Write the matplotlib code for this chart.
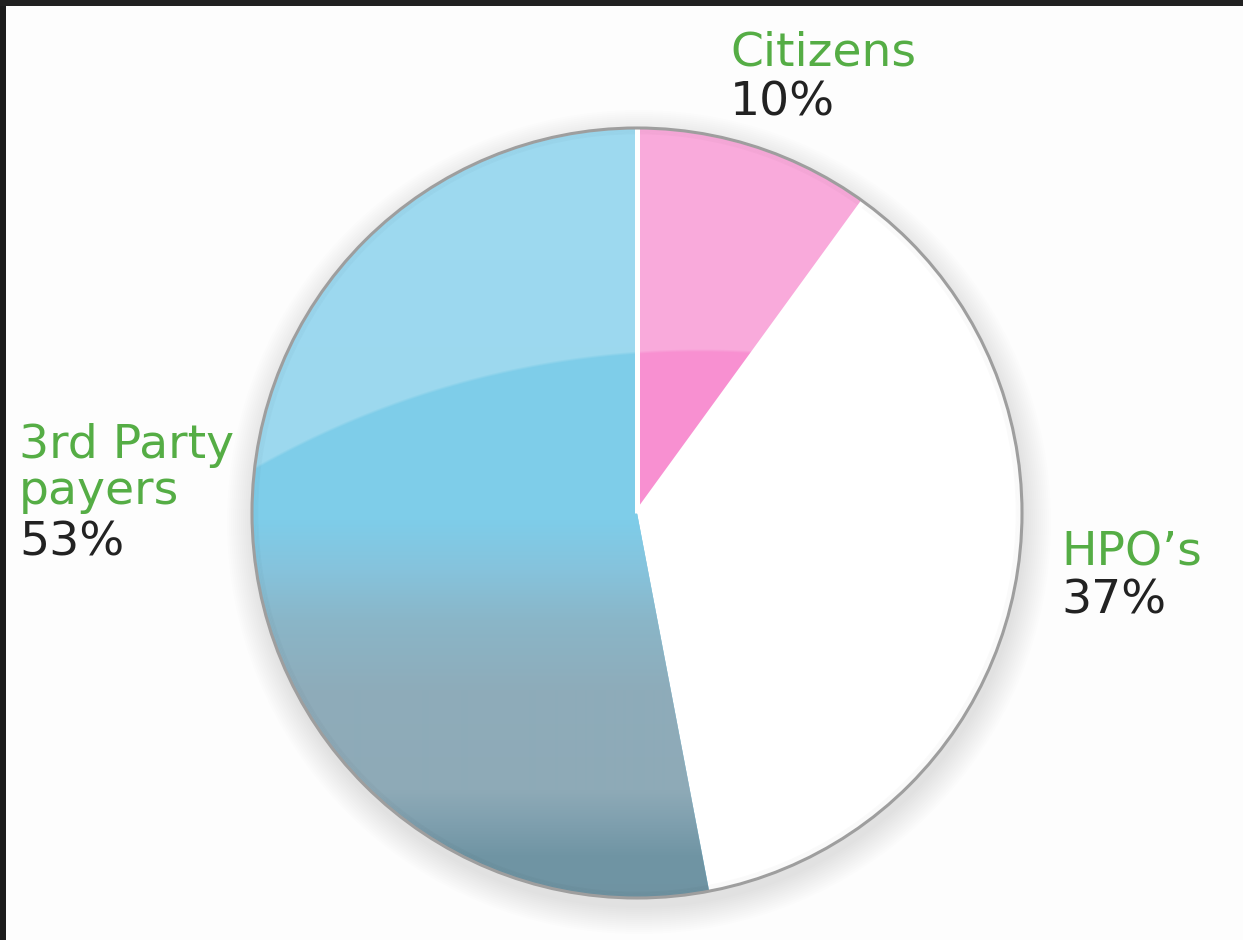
import numpy as np
import matplotlib
matplotlib.use('Agg')
import matplotlib.pyplot as plt
from matplotlib.patches import Circle, Rectangle
from matplotlib.colors import to_rgb

# data
labels = ['Citizens', "HPO\u2019s", '3rd Party\npayers']
shares = [10, 37, 53]
slice_colors = ['#f890d1', '#ffffff', '#80cfec']

# layout, in pixels of the 1243x940 picture (y measured from the top)
W, H = 1243, 940
cx, cy_img, rad = 637, 513, 385
cy = H - cy_img

fig = plt.figure(figsize=(W / 100, H / 100), dpi=100)
fig.patch.set_facecolor('#fdfdfd')
ax = fig.add_axes([0, 0, 1, 1])

# soft shadow round the pie, a bit heavier underneath
for i in range(14):
    ax.add_patch(Circle((cx + 2, cy - 9), rad + 1 + i * 2.0, facecolor='black',
                        edgecolor='none', alpha=0.009, zorder=1))

wedges, _ = ax.pie(shares, colors=slice_colors, startangle=90, counterclock=False,
                   center=(cx, cy), radius=rad, frame=True,
                   wedgeprops=dict(linewidth=0, zorder=2))

# blue slice: vertical gradient, light blue at top to grey blue at the bottom
stops_y = [0, 520, 570, 620, 690, 790, 825, 855, 940]
stops_c = ['#80cfec', '#7ecde9', '#86c3dc', '#8ab6c8', '#8eacba', '#8eaab7',
           '#7e9fae', '#7095a4', '#6e92a1']
ys = np.arange(H)
rgb = np.array([to_rgb(c) for c in stops_c])
grad = np.stack([np.interp(ys, stops_y, rgb[:, k]) for k in range(3)], axis=-1)
grad = np.repeat(grad[:, None, :], 2, axis=1)
im = ax.imshow(grad, extent=(0, W, 0, H), origin='upper', aspect='auto',
               interpolation='bilinear', zorder=3)
im.set_clip_path(wedges[2])

# glossy highlight on the upper part of the disc
gx, gy = np.meshgrid(np.arange(W) + 0.5, np.arange(H) + 0.5)
dist = np.hypot(gx - 700, gy - 1250) - 898
alpha = np.clip(dist / 3.0, 0, 1) * 0.24
gloss = np.zeros((H, W, 4))
gloss[..., :3] = 1.0
gloss[..., 3] = alpha
gl = ax.imshow(gloss, extent=(0, W, 0, H), origin='upper', aspect='auto', zorder=4)
disc = Circle((cx, cy), rad, transform=ax.transData)
gl.set_clip_path(disc)

# faint shading just inside the rim
for i in range(4):
    ax.add_patch(Circle((cx, cy), rad - 1 - i * 1.5, facecolor='none',
                        edgecolor='black', linewidth=1.2, alpha=0.02, zorder=5))

# white separators along the two straight sides of the pink slice
pink = wedges[0]
for ang in (pink.theta1, pink.theta2):
    t = np.deg2rad(ang)
    ax.plot([cx, cx + rad * np.cos(t)], [cy, cy + rad * np.sin(t)], color='white',
            linewidth=3.6, solid_capstyle='butt', zorder=6)

# grey rim
ax.add_patch(Circle((cx, cy), rad, facecolor='none', edgecolor='#9e9e9e',
                    linewidth=2.2, zorder=7))

# labels
green = '#55ad45'
dark = '#222222'
fs = 34
ax.text(730, H - 65, 'Citizens', color=green, fontsize=fs, va='baseline', zorder=8)
ax.text(730, H - 115, '10%', color=dark, fontsize=fs, va='baseline', zorder=8)
ax.text(1061, H - 565, "HPO\u2019s", color=green, fontsize=fs, va='baseline', zorder=8)
ax.text(1061, H - 613, '37%', color=dark, fontsize=fs, va='baseline', zorder=8)
ax.text(19, H - 458, '3rd Party', color=green, fontsize=fs, va='baseline', zorder=8)
ax.text(19, H - 504, 'payers', color=green, fontsize=fs, va='baseline', zorder=8)
ax.text(19, H - 555, '53%', color=dark, fontsize=fs, va='baseline', zorder=8)

# dark frame on the top and left edges
ax.add_patch(Rectangle((0, 0), 6, H, facecolor='#1c1c1c', edgecolor='none', zorder=9))
ax.add_patch(Rectangle((0, H - 6), W, 6, facecolor='#212121', edgecolor='none', zorder=9))

ax.set_xlim(0, W)
ax.set_ylim(0, H)
ax.set_aspect('auto')
ax.axis('off')

fig.savefig('out.png', dpi=100, facecolor=fig.get_facecolor())
